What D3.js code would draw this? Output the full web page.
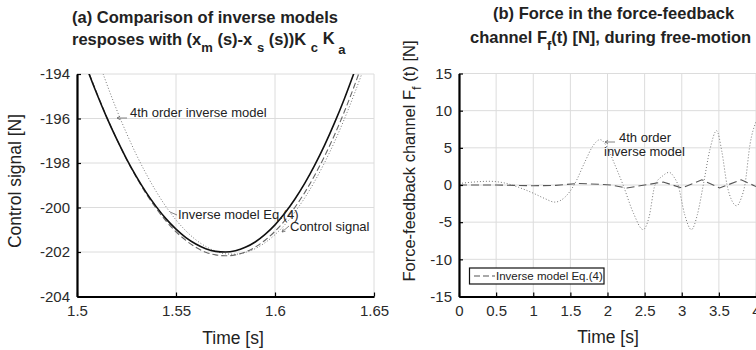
<!DOCTYPE html>
<html>
<head>
<meta charset="utf-8">
<script src="https://cdn.jsdelivr.net/npm/d3@7"></script>
<style>
  body { margin: 0; background: #fff; }
  svg { display: block; font-family: "Liberation Sans", Arial, sans-serif; }
</style>
</head>
<body>
<svg id="chart" width="756" height="350"></svg>
<script>
// ---- panel (a): control signal around the minimum ----
const leftTime = [1.500, 1.505, 1.510, 1.515, 1.520, 1.525, 1.530, 1.535, 1.540, 1.545,
  1.550, 1.555, 1.560, 1.565, 1.570, 1.575, 1.580, 1.585, 1.590, 1.595,
  1.600, 1.605, 1.610, 1.615, 1.620, 1.625, 1.630, 1.635, 1.640, 1.645, 1.650];
// inverse model Eq.(4), solid black
const leftEq4 = [-192.51, -193.74, -194.89, -195.95, -196.92, -197.81, -198.61, -199.33, -199.96, -200.51,
  -200.97, -201.35, -201.64, -201.85, -201.97, -202.00, -201.94, -201.79, -201.55, -201.21,
  -200.78, -200.25, -199.63, -198.92, -198.11, -197.21, -196.21, -195.12, -193.93, -192.66, -191.28];
// control signal, dashed
const leftControl = [-192.45, -193.70, -194.85, -195.93, -196.92, -197.83, -198.65, -199.39, -200.04, -200.61,
  -201.09, -201.48, -201.79, -202.01, -202.13, -202.17, -202.13, -202.00, -201.78, -201.47,
  -201.07, -200.58, -200.00, -199.33, -198.56, -197.70, -196.75, -195.70, -194.55, -193.30, -191.95];
// 4th order inverse model, dotted
const left4th = [-190.39, -191.84, -193.18, -194.44, -195.60, -196.66, -197.63, -198.50, -199.28, -199.97,
  -200.56, -201.05, -201.45, -201.75, -201.96, -202.08, -202.10, -202.02, -201.85, -201.58,
  -201.22, -200.77, -200.21, -199.57, -198.83, -197.99, -197.06, -196.03, -194.91, -193.70, -192.39];
const leftXTicks = [1.5, 1.55, 1.6, 1.65];
const leftYTicks = [-204, -202, -200, -198, -196, -194];

// ---- panel (b): force in the force-feedback channel ----
const rightTime4th = [0, 0.2, 0.4, 0.6, 0.8, 1.0, 1.15, 1.29, 1.42, 1.55, 1.7, 1.8, 1.9, 2.0, 2.1,
  2.21, 2.35, 2.48, 2.56, 2.64, 2.74, 2.83, 2.9, 2.95, 3.04, 3.13, 3.21, 3.29, 3.38,
  3.47, 3.54, 3.61, 3.68, 3.74, 3.8, 3.85, 3.92, 4.0];
const right4th = [0.2, 0.4, 0.5, 0.3, -0.3, -1.1, -1.8, -2.3, -1.7, 0, 3.2, 5.2, 6.1, 5.0, 2.7,
  0, -3.8, -6.0, -4.3, 0, 1.2, 1.7, 1.0, 0, -4.0, -6.0, -4.0, 0, 4.8,
  7.3, 4.5, 0, -2.2, -2.8, -1.8, 0, 5.5, 8.5];
const rightTimeEq4 = [0, 0.5, 1.0, 1.3, 1.6, 1.9, 2.05, 2.26, 2.5, 2.75, 3.0, 3.27, 3.51, 3.8, 4.0];
const rightEq4 = [0, 0, -0.1, -0.05, 0.2, 0.1, 0, -0.4, 0, 0.4, -0.4, 0.7, -0.4, 0.7, -0.2];
const rightXTicks = [0, 0.5, 1, 1.5, 2, 2.5, 3, 3.5, 4];
const rightYTicks = [-15, -10, -5, 0, 5, 10, 15];

const svg = d3.select("#chart");

// draws grid, axes and clipped series for one panel
function drawPanel(cfg) {
  const x = d3.scaleLinear().domain(cfg.xDomain).range(cfg.xRange);
  const y = d3.scaleLinear().domain(cfg.yDomain).range(cfg.yRange);
  const g = svg.append("g");

  // light grid
  g.append("g").selectAll("line.v").data(cfg.xTicks).enter().append("line")
    .attr("x1", d => x(d)).attr("x2", d => x(d))
    .attr("y1", y.range()[0]).attr("y2", y.range()[1])
    .attr("stroke", "#dcdcdc").attr("stroke-width", 1);
  g.append("g").selectAll("line.h").data(cfg.yTicks).enter().append("line")
    .attr("x1", x.range()[0]).attr("x2", x.range()[1])
    .attr("y1", d => y(d)).attr("y2", d => y(d))
    .attr("stroke", "#dcdcdc").attr("stroke-width", 1);

  const clipId = cfg.id + "-clip";
  svg.append("clipPath").attr("id", clipId).append("rect")
    .attr("x", x.range()[0]).attr("y", y.range()[1])
    .attr("width", x.range()[1] - x.range()[0])
    .attr("height", y.range()[0] - y.range()[1]);

  const lines = g.append("g").attr("clip-path", `url(#${clipId})`);
  cfg.series.forEach(s => {
    const pts = s.t.map((t, i) => [t, s.v[i]]);
    lines.append("path")
      .attr("d", d3.line().x(d => x(d[0])).y(d => y(d[1])).curve(s.curve)(pts))
      .attr("fill", "none")
      .attr("stroke", s.color)
      .attr("stroke-width", s.width)
      .attr("stroke-dasharray", s.dash);
  });

  // axes: left and bottom only, inward ticks
  const fmt = d => String(d);
  const ax = g.append("g").attr("transform", `translate(0,${y.range()[0]})`)
    .call(d3.axisBottom(x).tickValues(cfg.xTicks).tickFormat(fmt)
      .tickSizeInner(-4).tickSizeOuter(0).tickPadding(9));
  const ay = g.append("g").attr("transform", `translate(${x.range()[0]},0)`)
    .call(d3.axisLeft(y).tickValues(cfg.yTicks).tickFormat(fmt)
      .tickSizeInner(-4).tickSizeOuter(0).tickPadding(7));
  [ax, ay].forEach(a => {
    a.select(".domain").attr("stroke", "#000").attr("stroke-width", 2.2);
    a.selectAll(".tick line").attr("stroke", "#000").attr("stroke-width", 1.2);
    a.selectAll(".tick text").attr("fill", "#2a2a2a").style("font-size", "15px")
      .style("font-family", "'Liberation Sans', Arial, sans-serif");
  });
  return { x, y, g };
}

// ---------- panel (a) ----------
drawPanel({
  id: "pa",
  xDomain: [1.5, 1.65], xRange: [77, 374],
  yDomain: [-204, -194], yRange: [296.5, 74],
  xTicks: leftXTicks, yTicks: leftYTicks,
  series: [
    { t: leftTime, v: left4th, color: "#777", width: 1, dash: "1,2", curve: d3.curveMonotoneX },
    { t: leftTime, v: leftControl, color: "#666", width: 1.1, dash: "6,3", curve: d3.curveMonotoneX },
    { t: leftTime, v: leftEq4, color: "#111", width: 1.6, dash: null, curve: d3.curveMonotoneX }
  ]
});

// ---------- panel (b) ----------
drawPanel({
  id: "pb",
  xDomain: [0, 4], xRange: [459, 756],
  yDomain: [-15, 15], yRange: [296.5, 73.5],
  xTicks: rightXTicks, yTicks: rightYTicks,
  series: [
    { t: rightTime4th, v: right4th, color: "#777", width: 1, dash: "1,2", curve: d3.curveMonotoneX },
    { t: rightTimeEq4, v: rightEq4, color: "#555", width: 1.1, dash: "8,4", curve: d3.curveLinear }
  ]
});

// ---------- titles ----------
function title(xp, yp, parts) {
  const t = svg.append("text").attr("x", xp).attr("y", yp)
    .attr("fill", "#222").style("font-weight", "bold").style("font-size", "16.5px");
  parts.forEach(p => {
    const s = t.append("tspan").text(p.s);
    if (p.dy) s.attr("dy", p.dy);
    if (p.small) s.style("font-size", "13px");
  });
}
title(72, 23, [{ s: "(a) Comparison of inverse models" }]);
title(72, 45, [
  { s: "resposes with (x" }, { s: "m", dy: 7, small: true }, { s: " (s)-x ", dy: -7 },
  { s: "s", dy: 7, small: true }, { s: " (s))K ", dy: -7 }, { s: "c", dy: 7, small: true },
  { s: " K", dy: -8 }, { s: " a", dy: 10, small: true }
]);
title(493, 19, [{ s: "(b) Force in the force-feedback" }]);
title(470, 43, [
  { s: "channel F" }, { s: "f", dy: 7, small: true }, { s: "(t) [N], during free-motion", dy: -7 }
]);

// ---------- axis labels ----------
svg.append("text").attr("transform", "translate(21,181) rotate(-90)")
  .attr("text-anchor", "middle").attr("fill", "#222").style("font-size", "17.5px")
  .text("Control signal [N]");
const ylab = svg.append("text").attr("transform", "translate(415,161) rotate(-90)")
  .attr("text-anchor", "middle").attr("fill", "#222").style("font-size", "16.5px");
ylab.append("tspan").text("Force-feedback channel F");
ylab.append("tspan").attr("dy", 6).style("font-size", "13px").text("f");
ylab.append("tspan").attr("dy", -6).text(" (t) [N]");

svg.append("text").attr("x", 233).attr("y", 344).attr("text-anchor", "middle")
  .attr("fill", "#222").style("font-size", "17.5px").text("Time [s]");
svg.append("text").attr("x", 608).attr("y", 343).attr("text-anchor", "middle")
  .attr("fill", "#222").style("font-size", "17.5px").text("Time [s]");

// ---------- annotations ----------
function note(xp, yp, str, size) {
  svg.append("text").attr("x", xp).attr("y", yp).attr("fill", "#222")
    .style("font-size", (size || 13) + "px").text(str);
}
function arrow(x1, y1, x2, y2) {
  // line from (x1,y1) to tip (x2,y2) with a small open head
  const a = Math.atan2(y2 - y1, x2 - x1);
  const h = 3.5;
  svg.append("path")
    .attr("d", `M${x1},${y1}L${x2},${y2}` +
      `M${x2 - h * Math.cos(a - 0.5)},${y2 - h * Math.sin(a - 0.5)}L${x2},${y2}` +
      `L${x2 - h * Math.cos(a + 0.5)},${y2 - h * Math.sin(a + 0.5)}`)
    .attr("fill", "none").attr("stroke", "#666").attr("stroke-width", 0.8);
}
note(130, 117, "4th order inverse model");
arrow(127, 118, 117, 118);
note(178, 219, "Inverse model Eq.(4)");
svg.append("line").attr("x1", 177).attr("y1", 215).attr("x2", 170).attr("y2", 212)
  .attr("stroke", "#666").attr("stroke-width", 0.8);
note(290, 231, "Control signal");
arrow(289, 226, 282, 232);

note(619, 142, "4th order");
note(604, 156, "inverse model");
arrow(615, 142, 605, 142);

// legend box in panel (b)
svg.append("rect").attr("x", 469.5).attr("y", 268).attr("width", 134.5).attr("height", 16)
  .attr("fill", "#fff").attr("stroke", "#111").attr("stroke-width", 1.2);
svg.append("line").attr("x1", 474).attr("x2", 495).attr("y1", 276).attr("y2", 276)
  .attr("stroke", "#555").attr("stroke-width", 1.1).attr("stroke-dasharray", "6,3");
note(496, 280, "Inverse model Eq.(4)", 11.5);
</script>
</body>
</html>
